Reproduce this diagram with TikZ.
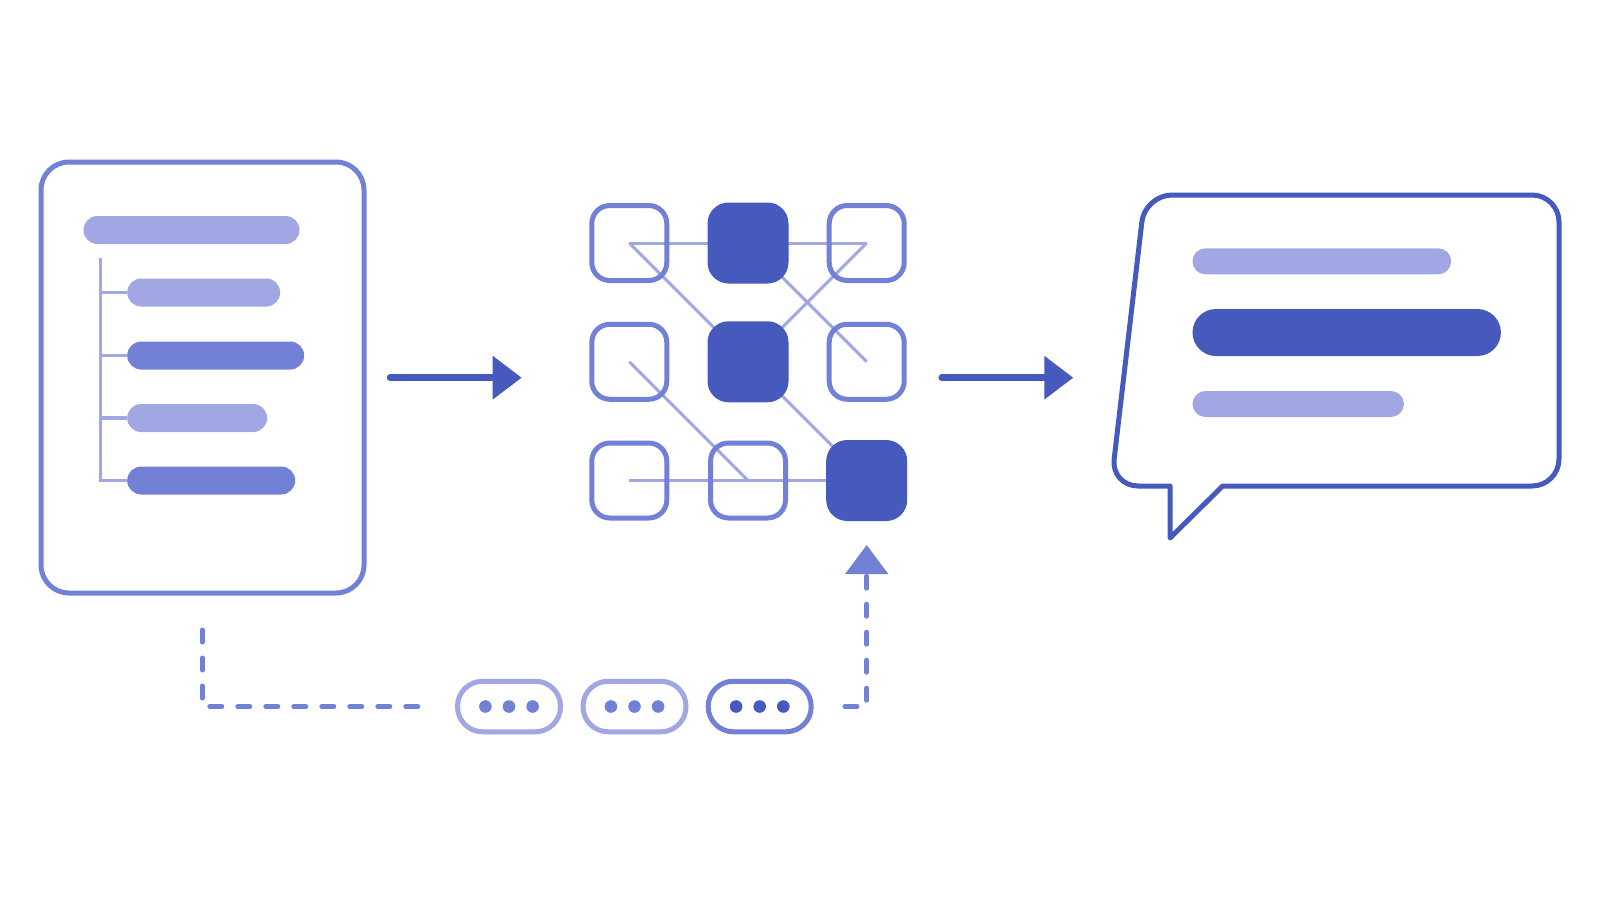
\documentclass[tikz,border=0pt]{standalone}
\usetikzlibrary{arrows.meta}

\definecolor{deepblue}{HTML}{455ABC}
\definecolor{midblue}{HTML}{7280D6}
\definecolor{paleblue}{HTML}{A0A7E2}

\pgfdeclarelayer{back}
\pgfsetlayers{back,main}

\tikzset{
    docframe/.style={draw=midblue, line width=5pt, inner sep=0pt},
    bar/.style={anchor=west, minimum height=28pt, rounded corners=14pt, inner sep=0pt},
    cell/.style={draw=midblue, line width=5pt, minimum size=75pt, rounded corners=18pt, inner sep=0pt},
    fullcell/.style={fill=deepblue, minimum size=81pt, rounded corners=21pt, inner sep=0pt},
    link/.style={draw=paleblue, line width=3pt},
    flow/.style={deepblue, line width=6.5pt, line cap=round, -{Triangle[width=42pt,length=29pt]}},
    feedback/.style={midblue, line width=5pt, line cap=round, dash pattern=on 12pt off 16pt},
    pill/.style={line width=5pt, minimum width=103pt, minimum height=50.5pt, rounded corners=25pt, inner sep=0pt}
}

\begin{document}
\begin{tikzpicture}[x=1pt, y=-1pt]
    \useasboundingbox (0,0) rectangle (1600,900);

    % Document with its title and items
    \node[docframe, minimum width=323pt, minimum height=431pt, rounded corners=28pt] (doc) at (202.5,377.5) {};
    \node[bar, fill=paleblue, minimum width=216pt] (title) at (83.3,230) {};
    \node[bar, fill=paleblue, minimum width=153pt] (item1) at (127,292.5) {};
    \node[bar, fill=midblue, minimum width=177pt] (item2) at (127,355.5) {};
    \node[bar, fill=paleblue, minimum width=140pt] (item3) at (127,418) {};
    \node[bar, fill=midblue, minimum width=168pt] (item4) at (127,480.5) {};

    % Tree lines to the items
    \coordinate (trunk) at (100.7,257.5);
    \draw[paleblue, line width=3.3pt] (trunk) |- (item4.west);
    \foreach \i in {1,2,3}
        \draw[paleblue, line width=3.3pt] (trunk |- item\i.west) -- (item\i.west);

    % Grid of cells
    \foreach \c/\r in {0/0,2/0,0/1,2/1,0/2,1/2}
        \node[cell] (g\c\r) at ({629.3+118.7*\c},{243+118.75*\r}) {};
    \foreach \c/\r in {1/0,1/1,2/2}
        \node[fullcell] (g\c\r) at ({629.3+118.7*\c},{243+118.75*\r}) {};

    % Links behind the cells
    \begin{pgfonlayer}{back}
        \draw[link] (g00.center) -- (g20.center);
        \draw[link] (g02.center) -- (g22.center);
        \foreach \a/\b in {00/11,20/11,10/21,01/12,11/22}
            \draw[link] (g\a.center) -- (g\b.center);
    \end{pgfonlayer}

    % Arrows between the stages
    \coordinate (out1) at (390,377.7);
    \coordinate (in1) at (521.7,377.7);
    \coordinate (out2) at (941.7,377.7);
    \coordinate (in2) at (1073.3,377.7);
    \draw[flow] (out1) -- (in1);
    \draw[flow] (out2) -- (in2);

    % Speech bubble
    \draw[deepblue, line width=5pt, line join=round] (1222.7,486) [rounded corners=27pt] -- (1559,486) -- (1559,195) -- (1145,195) -- (1111,486) [sharp corners] -- (1170,486) -- (1170,538) -- cycle;
    \node[bar, fill=paleblue, minimum height=26pt, rounded corners=13pt, minimum width=258.7pt] (line1) at (1192.3,261.3) {};
    \node[bar, fill=deepblue, minimum height=47pt, rounded corners=23.5pt, minimum width=308.4pt] (line2) at (1192.3,332.5) {};
    \node[bar, fill=paleblue, minimum height=26pt, rounded corners=13pt, minimum width=211.4pt] (line3) at (1192.3,404) {};

    % Pills with dots
    \node[pill, draw=paleblue] (p1) at (509,706.5) {};
    \node[pill, draw=paleblue] (p2) at (634.5,706.5) {};
    \node[pill, draw=midblue] (p3) at (759.7,706.5) {};
    \foreach \dx in {-23.6,0,23.6} {
        \fill[midblue] ([xshift=\dx pt]p1.center) circle (6.3pt);
        \fill[midblue] ([xshift=\dx pt]p2.center) circle (6.3pt);
        \fill[deepblue] ([xshift=\dx pt]p3.center) circle (6.3pt);
    }

    % Dashed feedback path
    \coordinate (d1) at (202.3,630);
    \coordinate (d2) at (419.7,706.5);
    \coordinate (d3) at (845,706.5);
    \coordinate (d4) at (866.7,545);
    \draw[feedback] (d1) |- (d2);
    \draw[feedback, -{Triangle[width=42pt,length=29pt]}] (d3) -| (d4);
\end{tikzpicture}
\end{document}
